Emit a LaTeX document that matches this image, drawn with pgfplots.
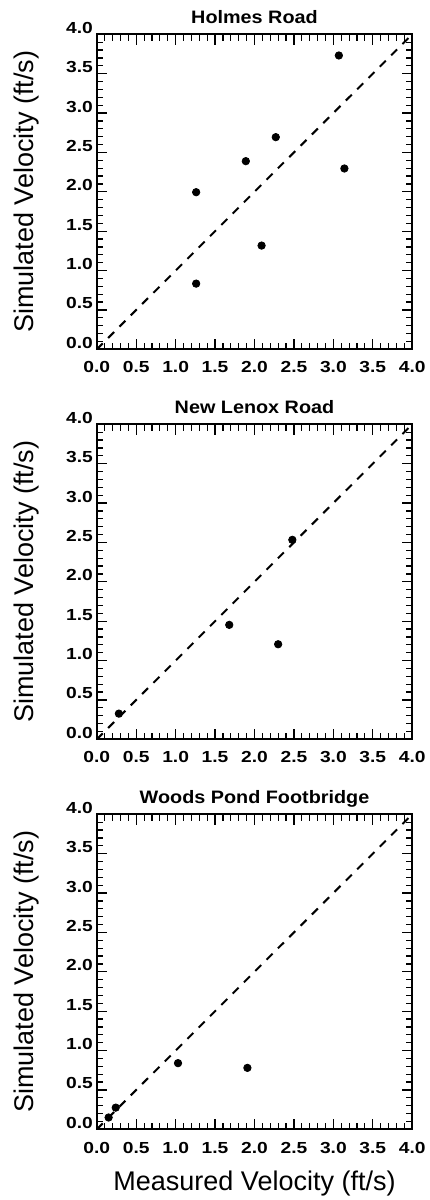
\documentclass[border=0pt]{standalone}
\usepackage{fontspec}
\setmainfont{Liberation Sans}
\newfontfamily\tickfont[FakeStretch=1.2]{Liberation Sans}
\newfontfamily\titlefont[FakeStretch=1.1]{Liberation Sans}
\usepackage{pgfplots}
\pgfplotsset{compat=1.18}
\pgfplotsset{vel/.style={
  scale only axis, width=157.7pt, height=157.5pt, anchor=south west,
  xmin=0, xmax=4, ymin=0, ymax=4,
  xtick={0,0.5,1,1.5,2,2.5,3,3.5,4},
  ytick={0,0.5,1,1.5,2,2.5,3,3.5,4},
  minor tick num=4,
  tick align=inside,
  major tick length=5.3pt, minor tick length=3.2pt,
  axis line style={line width=1pt},
  every tick/.style={black, line width=0.6pt},
  /pgf/number format/fixed,
  /pgf/number format/fixed zerofill,
  /pgf/number format/precision=1,
  /pgf/number format/assume math mode=true,
  ticklabel style={font=\tickfont\bfseries\fontsize{8}{9}\selectfont},
  xticklabel style={anchor=base, inner sep=0pt, yshift=-11.85pt},
  yticklabel style={anchor=base east, inner sep=0pt, xshift=-1.8pt, yshift=0.5pt},
  every axis title shift=0pt,
  title style={font=\titlefont\bfseries\fontsize{9}{11}\selectfont, at={(axis description cs:0.5,1.0333)}, anchor=base, inner sep=0pt, yshift=0pt},
  ylabel={Simulated Velocity (ft/s)},
  ylabel style={font=\fontsize{13.5}{16}\selectfont, at={(axis description cs:-0.1994,0.5)}, anchor=base, inner sep=0pt},
}}
\begin{document}
\begin{tikzpicture}
\useasboundingbox (0,0) rectangle (214.5pt,600pt);
% Panel 1
\begin{axis}[vel, at={(48.4pt,425.35pt)}, title={Holmes Road}]
\addplot[black, line width=1pt, dash pattern=on 4.2pt off 3.8pt] coordinates {(0,0) (4,4)};
\addplot[only marks, mark=*, mark size=1.85pt, black] coordinates {
(1.26,1.995) (1.26,0.834) (1.89,2.389) (2.27,2.694) (2.09,1.317) (3.07,3.731) (3.14,2.296)};
\end{axis}
% Panel 2
\begin{axis}[vel, at={(48.4pt,230.35pt)}, title={New Lenox Road}]
\addplot[black, line width=1pt, dash pattern=on 4.2pt off 3.8pt] coordinates {(0,0) (4,4)};
\addplot[only marks, mark=*, mark size=1.85pt, black] coordinates {
(0.28,0.326) (1.68,1.453) (2.30,1.207) (2.48,2.533)};
\end{axis}
% Panel 3
\begin{axis}[vel, at={(48.4pt,35.35pt)}, title={Woods Pond Footbridge},
  xlabel={Measured Velocity (ft/s)},
  xlabel style={font=\fontsize{13.5}{16}\selectfont, at={(axis description cs:0.5,-0.1927)}, anchor=base, inner sep=0pt}]
\addplot[black, line width=1pt, dash pattern=on 4.2pt off 3.8pt] coordinates {(0,0) (4,4)};
\addplot[only marks, mark=*, mark size=1.85pt, black] coordinates {
(0.15,0.15) (0.24,0.275) (1.03,0.84) (1.91,0.78)};
\end{axis}
\end{tikzpicture}
\end{document}
